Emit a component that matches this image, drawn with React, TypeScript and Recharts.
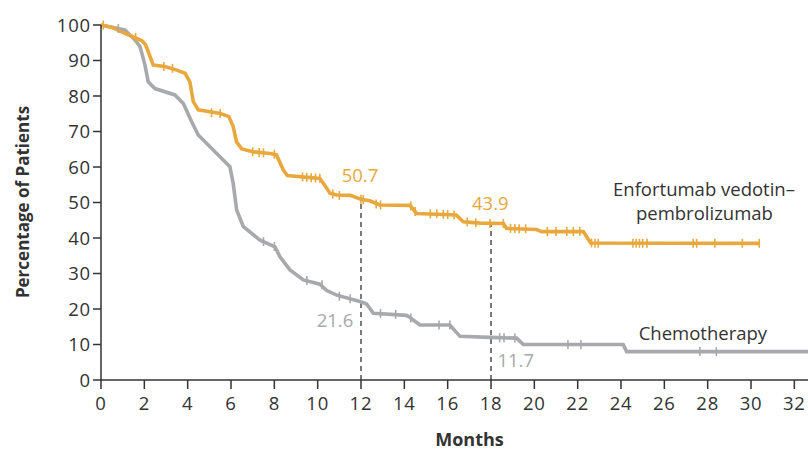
import React from 'react';
import {
  ComposedChart,
  Line,
  Scatter,
  XAxis,
  YAxis,
  ReferenceLine,
  ReferenceDot,
  Label,
} from 'recharts';

// Kaplan–Meier curves: [months, percent]
const evpCurve: [number, number][] = [
  [0, 100], [0.5, 99.3], [1.26, 97.2], [1.88, 95.6], [2.05, 94.5], [2.18, 92.5], [2.41, 88.7],
  [2.95, 88.3], [3.5, 87.3], [3.88, 86.4], [4.1, 84], [4.26, 78.4], [4.49, 76.1], [5.5, 75.1],
  [5.9, 74.2], [6.1, 71.4], [6.26, 67], [6.5, 65.1], [7.0, 64.3], [7.8, 63.8], [8.1, 63.4],
  [8.41, 59.2], [8.6, 57.6], [10.1, 56.8], [10.26, 55.4], [10.57, 52.6], [10.88, 52.1],
  [11.5, 52], [12.0, 50.9], [12.4, 50.5], [12.87, 49.3], [14.26, 49.2], [14.57, 46.9],
  [16.4, 46.5], [16.72, 44.6], [17.5, 44.2], [18.57, 44.1], [18.72, 42.7], [20.1, 42.4],
  [20.34, 41.8], [22.26, 41.8], [22.45, 40], [22.6, 38.6], [30.4, 38.5],
];

const chemoCurve: [number, number][] = [
  [0, 100], [1.1, 98.6], [1.57, 95.8], [1.8, 93.9], [2.03, 88.7], [2.18, 84], [2.49, 82.1],
  [3.41, 80.3], [3.8, 77.9], [4.18, 72.8], [4.49, 69], [5.1, 65.3], [5.49, 62.9], [5.95, 60.1],
  [6.1, 55.4], [6.26, 47.9], [6.57, 43.2], [7.34, 39.4], [8.03, 37.5], [8.26, 34.7],
  [8.72, 31], [9.34, 28.2], [10.1, 27], [10.42, 25.2], [10.88, 23.9], [11.95, 22.1],
  [12.26, 21.4], [12.57, 18.8], [14.1, 18.2], [14.26, 17.6], [14.72, 15.5], [16.1, 15.5],
  [16.57, 12.3], [17.95, 12.0], [19.18, 11.8], [19.49, 10.0], [24.1, 10.0], [24.26, 8.0],
  [32.63, 8.0],
];

// Censor marks: [months, percent]
const evpCensored: [number, number][] = [
  [0.1, 100], [1.6, 96.5], [2.9, 88.3], [3.3, 87.8], [5.1, 75.3], [5.5, 75.1], [7.0, 64.3],
  [7.3, 64.1], [7.5, 64], [8.0, 63.6], [9.3, 57.2], [9.5, 57.1], [9.7, 57], [9.9, 56.9],
  [10.1, 56.8], [10.7, 52.4], [11.0, 52], [12.0, 50.9], [12.1, 50.8], [12.7, 49.6],
  [12.9, 49.3], [14.3, 49.0], [14.5, 47.5], [15.2, 46.8], [15.5, 46.8], [15.8, 46.7],
  [16.0, 46.6], [16.3, 46.5], [16.9, 44.5], [17.3, 44.3], [17.95, 44.1], [18.57, 44.1],
  [18.9, 42.7], [19.1, 42.7], [19.3, 42.6], [19.6, 42.6], [20.6, 41.8], [21.0, 41.8],
  [21.5, 41.8], [21.8, 41.8], [22.1, 41.8], [22.64, 38.6], [22.8, 38.5], [22.95, 38.5],
  [24.55, 38.5], [24.7, 38.5], [24.85, 38.5], [25.0, 38.5], [25.2, 38.5], [27.33, 38.5],
  [27.49, 38.5], [28.33, 38.5], [29.6, 38.5], [30.38, 38.5],
];

const chemoCensored: [number, number][] = [
  [0.8, 99], [6.15, 53], [7.5, 39], [8.0, 37.6], [9.5, 28], [10.2, 26.8], [11.0, 23.6],
  [11.5, 22.9], [12.9, 18.7], [13.6, 18.5], [14.3, 17.5], [15.6, 15.5], [16.1, 15.5],
  [18.4, 11.9], [18.6, 11.9], [19.1, 11.8], [21.55, 10.0], [22.15, 10.0], [27.64, 8.0],
  [28.4, 8.0],
];

const xTicks = [0, 2, 4, 6, 8, 10, 12, 14, 16, 18, 20, 22, 24, 26, 28, 30, 32];
const yTicks = [0, 10, 20, 30, 40, 50, 60, 70, 80, 90, 100];

// Landmark values
const landmarks = [
  { month: 12, evp: 50.7, chemo: 21.6 },
  { month: 18, evp: 43.9, chemo: 11.7 },
];

const ORANGE = '#E8A83E';
const GRAY = '#A7A9AC';
const INK = '#333333';

const toRows = (pts: [number, number][]) => pts.map(([x, y]) => ({ x, y }));

const CensorTick = (color: string) => (props: any) => {
  const { cx, cy } = props;
  if (cx == null || cy == null) return null;
  return (
    <line x1={cx} x2={cx} y1={cy - 4.5} y2={cy + 4.5} stroke={color} strokeWidth={1.6} />
  );
};

const YTitle = () => (
  <text
    x={22}
    y={202}
    transform="rotate(-90 22 202)"
    textAnchor="middle"
    dominantBaseline="central"
    fontSize={17}
    fontWeight={700}
    fill={INK}
  >
    Percentage of Patients
  </text>
);

const tickStyle = { fill: INK, fontSize: 18.5, letterSpacing: 0.8 };

export default function App() {
  return (
    <div
      style={{
        position: 'fixed',
        left: 0,
        top: 0,
        width: 808,
        height: 450,
        background: '#fff',
        fontFamily: '"Open Sans", sans-serif',
      }}
    >
      <ComposedChart
        width={808}
        height={450}
        margin={{ top: 25, right: 0, bottom: 40, left: 41 }}
      >
        <XAxis
          type="number"
          dataKey="x"
          domain={[0, 32.63]}
          ticks={xTicks}
          allowDataOverflow
          height={30}
          tickSize={9}
          tickMargin={8}
          tick={tickStyle}
          axisLine={{ stroke: INK, strokeWidth: 1.5 }}
          tickLine={{ stroke: INK, strokeWidth: 1.5 }}
        >
          <Label
            value="Months"
            position="bottom"
            offset={23}
            dx={15}
            fontSize={18}
            fontWeight={700}
            fill={INK}
          />
        </XAxis>
        <YAxis
          type="number"
          domain={[0, 100]}
          ticks={yTicks}
          width={60}
          tickSize={8}
          tickMargin={2}
          tick={tickStyle}
          axisLine={{ stroke: INK, strokeWidth: 1.5 }}
          tickLine={{ stroke: INK, strokeWidth: 1.5 }}
        >
          <Label content={<YTitle />} />
        </YAxis>

        {landmarks.map((l) => (
          <ReferenceLine
            key={'d' + l.month}
            segment={[
              { x: l.month, y: 0 },
              { x: l.month, y: l.evp },
            ]}
            stroke={INK}
            strokeWidth={1.3}
            strokeDasharray="5 4"
          />
        ))}

        <Line
          data={toRows(chemoCurve)}
          dataKey="y"
          type="linear"
          stroke={GRAY}
          strokeWidth={3.6}
          dot={false}
          isAnimationActive={false}
        />
        <Line
          data={toRows(evpCurve)}
          dataKey="y"
          type="linear"
          stroke={ORANGE}
          strokeWidth={3.6}
          dot={false}
          isAnimationActive={false}
        />
        <Scatter
          data={toRows(chemoCensored)}
          dataKey="y"
          shape={CensorTick(GRAY)}
          isAnimationActive={false}
        />
        <Scatter
          data={toRows(evpCensored)}
          dataKey="y"
          shape={CensorTick(ORANGE)}
          isAnimationActive={false}
        />

        <ReferenceDot x={11.95} y={57.5} r={1} fill="none" stroke="none"
          label={{ value: landmarks[0].evp.toFixed(1), position: 'center', fill: ORANGE, fontSize: 18.5 }} />
        <ReferenceDot x={17.97} y={49.6} r={1} fill="none" stroke="none"
          label={{ value: landmarks[1].evp.toFixed(1), position: 'center', fill: ORANGE, fontSize: 18.5 }} />
        <ReferenceDot x={10.8} y={16.8} r={1} fill="none" stroke="none"
          label={{ value: landmarks[0].chemo.toFixed(1), position: 'center', fill: GRAY, fontSize: 18.5 }} />
        <ReferenceDot x={19.14} y={5.6} r={1} fill="none" stroke="none"
          label={{ value: landmarks[1].chemo.toFixed(1), position: 'center', fill: GRAY, fontSize: 18.5 }} />

        <ReferenceDot x={27.83} y={53.8} r={1} fill="none" stroke="none"
          label={{ value: 'Enfortumab vedotin–', position: 'center', fill: INK, fontSize: 18.5 }} />
        <ReferenceDot x={27.85} y={46.8} r={1} fill="none" stroke="none"
          label={{ value: 'pembrolizumab', position: 'center', fill: INK, fontSize: 18.5 }} />
        <ReferenceDot x={27.78} y={13.0} r={1} fill="none" stroke="none"
          label={{ value: 'Chemotherapy', position: 'center', fill: INK, fontSize: 18.5 }} />
      </ComposedChart>
    </div>
  );
}
